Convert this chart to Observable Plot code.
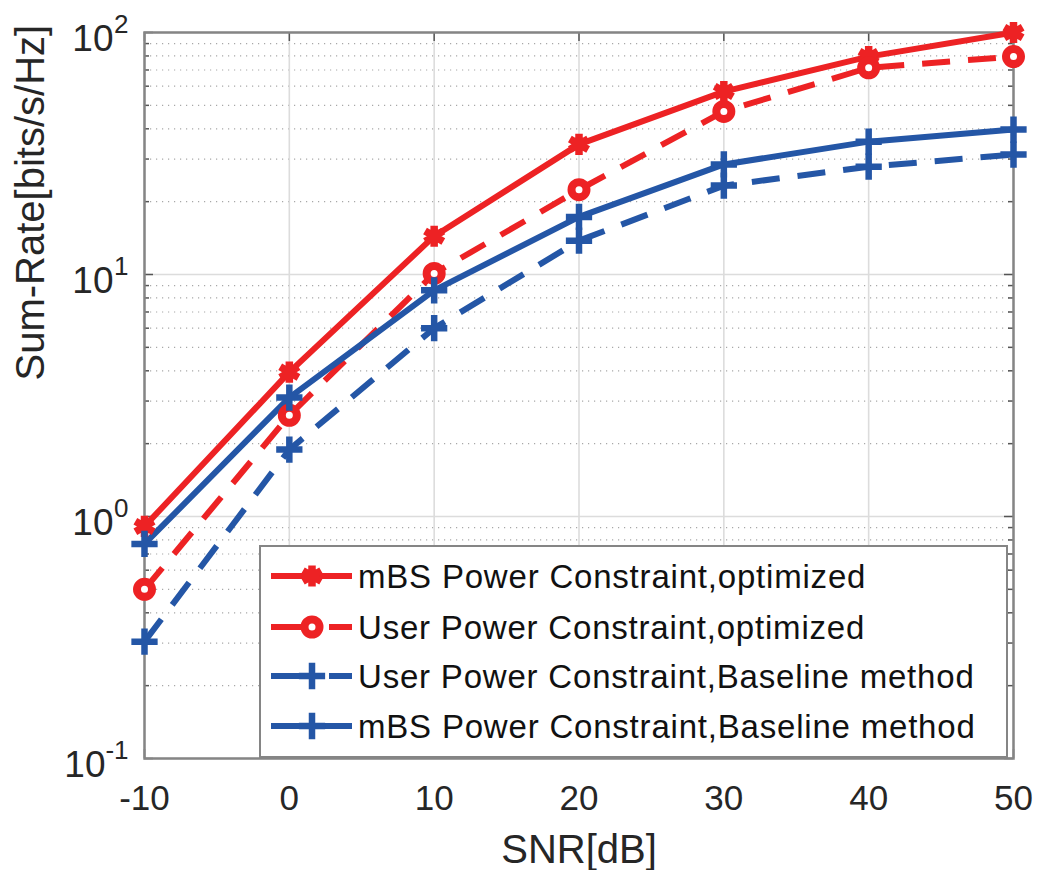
<!DOCTYPE html>
<html>
<head>
<meta charset="utf-8">
<script src="https://cdn.jsdelivr.net/npm/d3@7"></script>
<script src="https://cdn.jsdelivr.net/npm/@observablehq/plot@0.6"></script>
<style>
  html, body { margin: 0; padding: 0; background: #fff; }
  #chart { position: relative; width: 1040px; height: 870px; font-family: "Liberation Sans", Arial, Helvetica, sans-serif; }
  #legend { position: absolute; left: 259px; top: 545px; }
</style>
</head>
<body>
<div id="chart"></div>
<script>
// ---- data ----
const snr = [-10, 0, 10, 20, 30, 40, 50];
const mbsOptimized  = [0.91, 3.95, 14.4, 34.5, 57.0, 79.5, 100];
const userOptimized = [0.50, 2.62, 10.1, 22.4, 47.2, 71.5, 79.5];
const userBaseline  = [0.304, 1.89, 6.0, 13.8, 23.3, 27.9, 31.3];
const mbsBaseline   = [0.77, 3.10, 8.6, 17.3, 28.5, 35.4, 39.7];

const seriesNames = [
  "mBS Power Constraint,optimized",
  "User Power Constraint,optimized",
  "User Power Constraint,Baseline method",
  "mBS Power Constraint,Baseline method"
];
const seriesValues = [mbsOptimized, userOptimized, userBaseline, mbsBaseline];
const seriesColors = ["#ed2224", "#ed2224", "#2456a6", "#2456a6"];
const seriesDashed = [false, true, true, false];
const seriesSymbols = ["asterisk", "circle", "plus", "plus"];

const xTicks = [-10, 0, 10, 20, 30, 40, 50];
const yMajorTicks = [0.1, 1, 10, 100];
const yExponents = ["-1", "0", "1", "2"];
const yMinorTicks = [0.2, 0.3, 0.4, 0.5, 0.6, 0.7, 0.8, 0.9,
                     2, 3, 4, 5, 6, 7, 8, 9,
                     20, 30, 40, 50, 60, 70, 80, 90];

const xLabel = "SNR[dB]";
const yLabel = "Sum-Rate[bits/s/Hz]";

// ---- styling ----
const font = '"Liberation Sans", Arial, Helvetica, sans-serif';
const textColor = "#262626";
const frameColor = "#858585";
const tickColor = "#555";
const dash = "28,18";
const lineW = 6;
const symbolStyle = {
  asterisk: {r: 10, strokeWidth: 7.5, fill: "none"},
  circle: {r: 7.5, strokeWidth: 8, fill: "white"},
  plus: {r: 8.5, strokeWidth: 6.5, fill: "none"}
};

const rows = seriesNames.flatMap((name, i) =>
  snr.map((x, j) => ({name, x, y: seriesValues[i][j]})));

const W = 1040, H = 870, mL = 144, mR = 27, mT = 32, mB = 112;
const plotW = W - mL - mR, plotH = H - mT - mB;
const majorTick = 9, minorTick = 5;

const marks = [
  // grid
  Plot.ruleY(yMinorTicks, {stroke: "#a8a8a8", strokeWidth: 1.2, strokeDasharray: "1.2,4.8"}),
  Plot.ruleX(xTicks, {stroke: "#dcdcdc", strokeWidth: 1.6}),
  Plot.ruleY(yMajorTicks, {stroke: "#dcdcdc", strokeWidth: 1.6}),
  // inward ticks on all four sides
  Plot.ruleX(xTicks, {stroke: tickColor, strokeWidth: 1.5, insetBottom: plotH - majorTick}),
  Plot.ruleX(xTicks, {stroke: tickColor, strokeWidth: 1.5, insetTop: plotH - majorTick}),
  Plot.ruleY(yMajorTicks, {stroke: tickColor, strokeWidth: 1.5, insetRight: plotW - majorTick}),
  Plot.ruleY(yMajorTicks, {stroke: tickColor, strokeWidth: 1.5, insetLeft: plotW - majorTick}),
  Plot.ruleY(yMinorTicks, {stroke: tickColor, strokeWidth: 1.5, insetRight: plotW - minorTick}),
  Plot.ruleY(yMinorTicks, {stroke: tickColor, strokeWidth: 1.5, insetLeft: plotW - minorTick}),
  Plot.frame({stroke: frameColor, strokeWidth: 2.5})
];

seriesNames.forEach((name, i) => {
  const data = rows.filter(d => d.name === name);
  marks.push(Plot.line(data, {
    x: "x", y: "y", stroke: seriesColors[i], strokeWidth: lineW,
    strokeDasharray: seriesDashed[i] ? dash : null,
    strokeLinejoin: "round", strokeLinecap: "butt"
  }));
});
seriesNames.forEach((name, i) => {
  const data = rows.filter(d => d.name === name);
  const s = symbolStyle[seriesSymbols[i]];
  marks.push(Plot.dot(data, {
    x: "x", y: "y", symbol: seriesSymbols[i], r: s.r,
    stroke: seriesColors[i], strokeWidth: s.strokeWidth, fill: s.fill
  }));
});

// tick labels
marks.push(Plot.text(xTicks, {
  x: d => d, frameAnchor: "bottom", dy: 51, lineAnchor: "bottom",
  text: d => String(d), fontSize: 35, fill: textColor
}));
yMajorTicks.forEach((t, i) => {
  const exp = yExponents[i];
  const expW = exp.length > 1 ? 22 : 14;
  marks.push(Plot.text([t], {
    y: d => d, frameAnchor: "left", text: () => "10", textAnchor: "end",
    lineAnchor: "bottom", dx: -16 - expW - 1, dy: 18, fontSize: 37, fill: textColor
  }));
  marks.push(Plot.text([t], {
    y: d => d, frameAnchor: "left", text: () => exp, textAnchor: "end",
    lineAnchor: "bottom", dx: -16, dy: 0, fontSize: 26, fill: textColor
  }));
});
// axis labels
marks.push(Plot.text([xLabel], {
  frameAnchor: "bottom", dy: 104, lineAnchor: "bottom", fontSize: 40, fill: textColor
}));
marks.push(Plot.text([yLabel], {
  frameAnchor: "left", rotate: -90, dx: -101, dy: -15, lineAnchor: "bottom",
  fontSize: 40, fill: textColor
}));

const chart = Plot.plot({
  width: W, height: H,
  marginLeft: mL, marginRight: mR, marginTop: mT, marginBottom: mB,
  x: {type: "linear", domain: [-10, 50], axis: null},
  y: {type: "log", domain: [0.1, 100], axis: null},
  style: {fontFamily: font, background: "white", overflow: "visible"},
  marks
});
document.getElementById("chart").appendChild(chart);

// ---- legend (overlay inside the axes, as in the reference) ----
const LW = 749, LH = 213;
const legend = d3.select("#chart").append("svg")
  .attr("id", "legend").attr("width", LW).attr("height", LH)
  .style("font-family", font);
legend.append("rect").attr("x", 1).attr("y", 1).attr("width", LW - 2).attr("height", LH - 2)
  .attr("fill", "white").attr("stroke", frameColor).attr("stroke-width", 2);
const rowY = [31, 82, 131, 181];
const symbolTypes = {asterisk: d3.symbolAsterisk, circle: d3.symbolCircle, plus: d3.symbolPlus};
seriesNames.forEach((name, i) => {
  const g = legend.append("g").attr("transform", `translate(0,${rowY[i]})`);
  const segs = seriesDashed[i] ? [[12, 45], [70, 93]] : [[12, 93]];
  segs.forEach(([a, b]) => g.append("line").attr("x1", a).attr("x2", b)
    .attr("stroke", seriesColors[i]).attr("stroke-width", lineW));
  const s = symbolStyle[seriesSymbols[i]];
  g.append("path")
    .attr("transform", "translate(53,0)")
    .attr("d", d3.symbol(symbolTypes[seriesSymbols[i]], s.r * s.r * Math.PI)())
    .attr("fill", s.fill).attr("stroke", seriesColors[i]).attr("stroke-width", s.strokeWidth);
  g.append("text").attr("x", 99).attr("y", 0).attr("dy", "0.35em")
    .attr("font-size", 33).attr("letter-spacing", "0.8px").attr("fill", "#111").text(name);
});
</script>
</body>
</html>
